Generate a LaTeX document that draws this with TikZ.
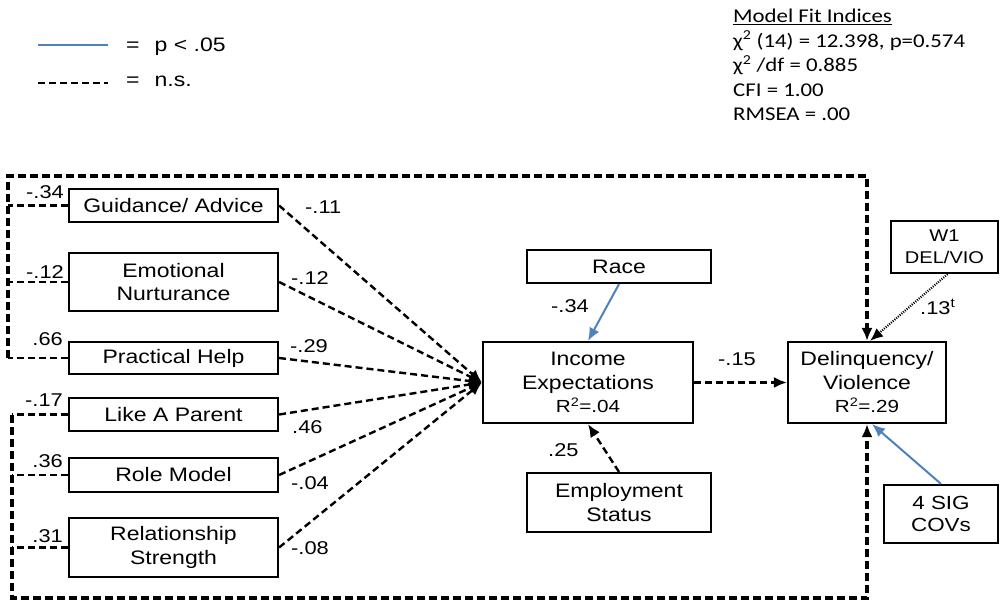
\documentclass[tikz,border=0pt]{standalone}
\usepackage{fontspec}
\setmainfont{Liberation Sans}[FakeStretch=1.18]
\newfontfamily\fitfont{Carlito}[FakeStretch=1.17]
\usetikzlibrary{arrows.meta,calc}
\definecolor{sigblue}{RGB}{79,129,189}
% R-squared line inside the outcome boxes
\newcommand\rsqline[1]{{\fontsize{17.5}{23.5}\selectfont R\textsuperscript{2}=#1}}
\begin{document}
\begin{tikzpicture}[x=1pt,y=-1pt,
  every node/.style={font=\fontsize{19.5}{23.5}\selectfont},
  box/.style={draw,line width=2.2pt,inner sep=0pt,align=center,minimum width=209pt},
  coef/.style={inner sep=0pt,font=\fontsize{18.5}{22}\selectfont},
  ns/.style={line width=2.4pt,dash pattern=on 7pt off 4pt},
  loopline/.style={line width=3.6pt,dash pattern=on 8pt off 4pt},
  sig/.style={draw=sigblue,line width=2pt},
  tip/.style={-{Latex[length=13pt,width=11pt]}},
  dotpath/.style={line width=2.2pt,dash pattern=on 1pt off 1.3pt},
  fitline/.style={anchor=base west,inner sep=0pt,font=\fitfont\fontsize{19.5}{24}\selectfont}
]
\useasboundingbox (0,0) rectangle (1000,600);

% ---- legend ----
\coordinate (lgA1) at (38,45);
\coordinate (lgA2) at (108,45);
\coordinate (lgB1) at (38,83);
\coordinate (lgB2) at (108,83);
\draw[sig,line width=2.4pt] (lgA1) -- (lgA2);
\draw[ns] (lgB1) -- (lgB2);
\node[anchor=west,inner sep=0pt] (lgt1) at (126,47) {=\hspace{15pt}p < .05};
\node[anchor=west,inner sep=0pt] (lgt2) at (126,81) {=\hspace{15pt}n.s.};

% ---- model fit ----
\node[fitline] (fit1) at (733,22.7) {\underline{Model Fit Indices}};
\node[fitline] (fit2) at (733,47.5) {χ\textsuperscript{2} (14) = 12.398, p=0.574};
\node[fitline] (fit3) at (733,71.8) {χ\textsuperscript{2} /df = 0.885};
\node[fitline] (fit4) at (733,96.2) {CFI = 1.00};
\node[fitline] (fit5) at (733,120.6) {RMSEA = .00};

% ---- mentoring boxes ----
\node[box,minimum height=33pt] (guid) at (173.5,205.5) {Guidance/ Advice};
\node[box,minimum height=58pt] (emo)  at (173.5,282)   {Emotional\\Nurturance};
\node[box,minimum height=32pt] (prac) at (173.5,358)   {Practical Help};
\node[box,minimum height=33pt] (like) at (173.5,414.5) {Like A Parent};
\node[box,minimum height=34pt] (role) at (173.5,475)   {Role Model};
\node[box,minimum height=59pt] (rel)  at (173.5,547.5) {Relationship\\Strength};

% ---- mediator and outcome ----
\node[box,minimum width=210pt,minimum height=81pt] (inc) at (588,382.5) {Income\\Expectations\\\rsqline{.04}};
\node[box,minimum width=184pt,minimum height=33pt] (race) at (619,266.5) {Race};
\node[box,minimum width=184pt,minimum height=59pt] (emp) at (619,502.5) {Employment\\Status};
\node[box,minimum width=158pt,minimum height=81pt] (del) at (867,382.5) {Delinquency/\\Violence\\\rsqline{.29}};
\node[box,minimum width=107pt,minimum height=52pt,font=\fontsize{17}{22}\selectfont] (w1) at (944.5,247) {W1\\DEL/VIO};
\node[box,minimum width=114pt,minimum height=58pt,font=\fontsize{19}{22.5}\selectfont] (cov) at (941,514) {4 SIG\\COVs};

% ---- paths into income expectations ----
\foreach \b in {guid,emo,prac,like,role,rel}
  \draw[ns,tip] (\b.east) -- (inc.west);
\draw[sig,tip] (race.south) -- (inc.north);
\draw[ns,tip] (emp.north) -- (inc.south);
\draw[ns,tip] (inc.east) -- (del.west);

% ---- paths into delinquency ----
\draw[dotpath,tip] ($(w1.south)+(3,0)$) -- ($(del.north)+(3,0)$);
\draw[sig,tip] (cov.north) -- ($(del.south)+(5,0)$);

% ---- direct paths: upper loop ----
\coordinate (ltop) at (8,176);
\coordinate (rtop) at (del.north |- ltop);
\draw[ns] (guid.west) -- (guid.west -| ltop);
\draw[ns] (emo.west) -- (emo.west -| ltop);
\draw[ns] (prac.west) -- (prac.west -| ltop);
\draw[loopline,tip] (prac.west -| ltop) -- (ltop) -- (rtop) -- (del.north);

% ---- direct paths: lower loop ----
\coordinate (lbot) at (12,598);
\coordinate (rbot) at (del.south |- lbot);
\draw[ns] (like.west) -- (like.west -| lbot);
\draw[ns] (role.west) -- (role.west -| lbot);
\draw[ns] (rel.west) -- (rel.west -| lbot);
\draw[loopline,tip] (like.west -| lbot) -- (lbot) -- (rbot) -- (del.south);

% ---- coefficients ----
\node[coef,anchor=east] (d1) at (64,192) {-.34};
\node[coef,anchor=east] (d2) at (64,272) {-.12};
\node[coef,anchor=east] (d3) at (63,339) {.66};
\node[coef,anchor=east] (d4) at (63,400) {-.17};
\node[coef,anchor=east] (d5) at (63,461) {.36};
\node[coef,anchor=east] (d6) at (63,536) {.31};

\node[coef,anchor=west] (p1) at (305,207) {-.11};
\node[coef,anchor=west] (p2) at (291,278) {-.12};
\node[coef,anchor=west] (p3) at (290,346) {-.29};
\node[coef,anchor=west] (p4) at (292,427) {.46};
\node[coef,anchor=west] (p5) at (291,483) {-.04};
\node[coef,anchor=west] (p6) at (291,548) {-.08};

\node[coef,anchor=west] (prace) at (551,306) {-.34};
\node[coef,anchor=west] (pemp)  at (548,450) {.25};
\node[coef,anchor=west] (pinc)  at (718,359) {-.15};
\node[coef,anchor=west] (pw1)   at (920,307) {.13\textsuperscript{t}};
\end{tikzpicture}
\end{document}
